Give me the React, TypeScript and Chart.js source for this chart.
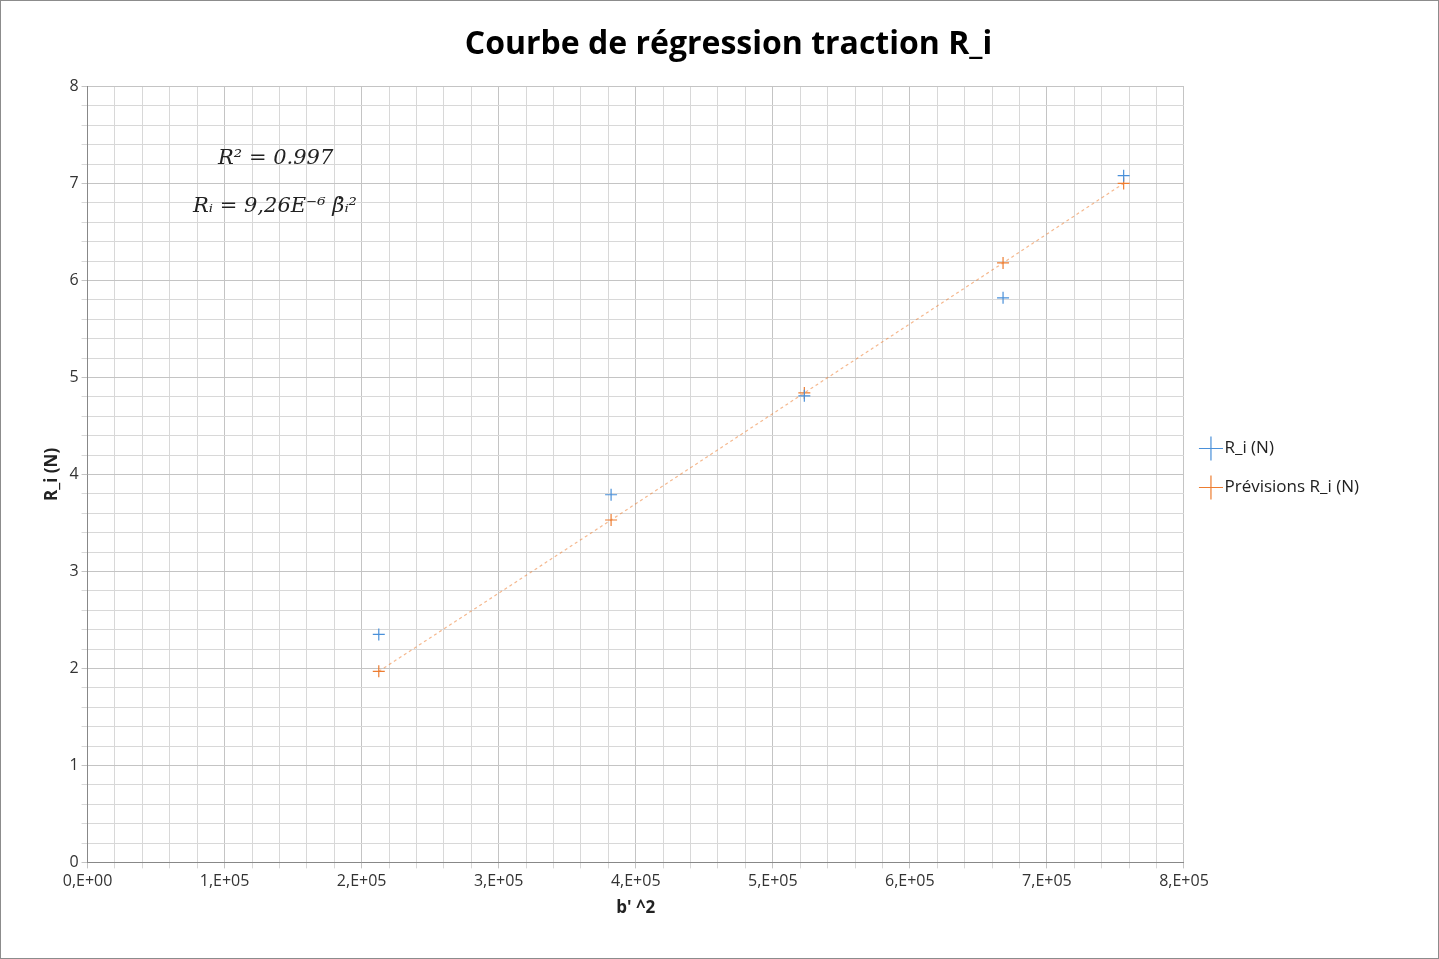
import { useEffect, useRef } from 'react';
import Chart from 'chart.js/auto';

const xValues = [212500, 382000, 523000, 668000, 756000];
const measured = [2.35, 3.79, 4.81, 5.82, 7.08];
const predicted = [1.97, 3.53, 4.84, 6.18, 7.0];
const annotations = ['R² = 0.997', 'Rᵢ = 9,26E⁻⁶ β̇ᵢ²'];

const annotationPlugin = {
  id: 'annot',
  afterDraw(chart: any) {
    const { ctx } = chart;
    ctx.save();
    ctx.fillStyle = '#222';
    ctx.font = 'italic 21px "DejaVu Serif", serif';
    ctx.textAlign = 'left';
    ctx.fillText(annotations[0], 218, 164);
    ctx.fillText(annotations[1], 193, 212);
    ctx.strokeStyle = '#8c8c8c';
    ctx.lineWidth = 1;
    ctx.strokeRect(0.5, 0.5, chart.width - 1, chart.height - 1);
    ctx.restore();
  },
};

export default function App() {
  const ref = useRef<HTMLCanvasElement>(null);
  useEffect(() => {
    document.body.style.margin = '0';
    if (!ref.current) return;
    const isMajorX = (v: number) => Math.abs(v / 1e5 - Math.round(v / 1e5)) < 1e-6;
    const isMajorY = (v: number) => Math.abs(v - Math.round(v)) < 1e-6;
    const chart = new Chart(ref.current, {
      type: 'scatter',
      data: {
        datasets: [
          {
            label: 'R_i (N)',
            data: xValues.map((x, i) => ({ x, y: measured[i] })),
            pointStyle: 'cross',
            pointRadius: 6,
            borderColor: '#4a90d9',
            backgroundColor: '#4a90d9',
            borderWidth: 1.2,
          },
          {
            label: 'Prévisions R_i (N)',
            data: xValues.map((x, i) => ({ x, y: predicted[i] })),
            pointStyle: 'cross',
            pointRadius: 6,
            borderColor: '#ed7d31',
            backgroundColor: '#ed7d31',
            borderWidth: 1.2,
            showLine: true,
            segment: { borderColor: 'rgba(237,125,49,0.55)' },
            borderDash: [3, 3],
          } as any,
        ],
      },
      options: {
        animation: false,
        responsive: false,
        layout: { padding: { left: 38, right: 20, top: 14, bottom: 37 } },
        plugins: {
          title: {
            display: true,
            text: 'Courbe de régression traction R_i',
            font: { family: 'Open Sans', size: 32, weight: 'bold' },
            color: '#000',
            padding: { top: 12, bottom: 22 },
          },
          legend: {
            position: 'right',
            labels: {
              usePointStyle: true,
              font: { family: 'Open Sans', size: 17 },
              color: '#222',
              padding: 22,
              boxWidth: 10,
            },
          },
          tooltip: { enabled: false },
        },
        scales: {
          x: {
            type: 'linear',
            min: 0,
            max: 800000,
            afterFit: (s: any) => { s.height = s.height; },
            ticks: {
              stepSize: 20000,
              autoSkip: false,
              maxRotation: 0,
              color: '#333',
              font: { family: 'Open Sans', size: 16 },
              callback: (v: any) => (isMajorX(v) ? (v === 0 ? '0,E+00' : `${Math.round(v / 1e5)},E+05`) : ''),
            },
            grid: {
              color: (c: any) => (isMajorX(c.tick.value) ? '#c4c4c4' : '#d8d8d8'),
              tickLength: 6,
            },
            border: { color: '#888' },
            title: { display: true, text: "b' ^2", font: { family: 'Open Sans', size: 17, weight: 'bold' }, color: '#222' },
          },
          y: {
            min: 0,
            max: 8,
            ticks: {
              stepSize: 0.2,
              autoSkip: false,
              color: '#333',
              font: { family: 'Open Sans', size: 16 },
              callback: (v: any) => (isMajorY(v) ? String(Math.round(v)) : ''),
            },
            grid: {
              color: (c: any) => (isMajorY(c.tick.value) ? '#c4c4c4' : '#d8d8d8'),
              tickLength: 6,
            },
            border: { color: '#888' },
            title: { display: true, text: 'R_i (N)', font: { family: 'Open Sans', size: 17, weight: 'bold' }, color: '#222' },
          },
        },
      },
      plugins: [
        annotationPlugin,
        {
          id: 'legendWidth',
          beforeInit(c: any) {
            const fit = c.legend.fit;
            c.legend.fit = function () {
              fit.call(this);
              this.width += 50;
            };
          },
        },
      ],
    });
    return () => chart.destroy();
  }, []);
  return <canvas ref={ref} width={1439} height={959} style={{ display: 'block' }} />;
}
